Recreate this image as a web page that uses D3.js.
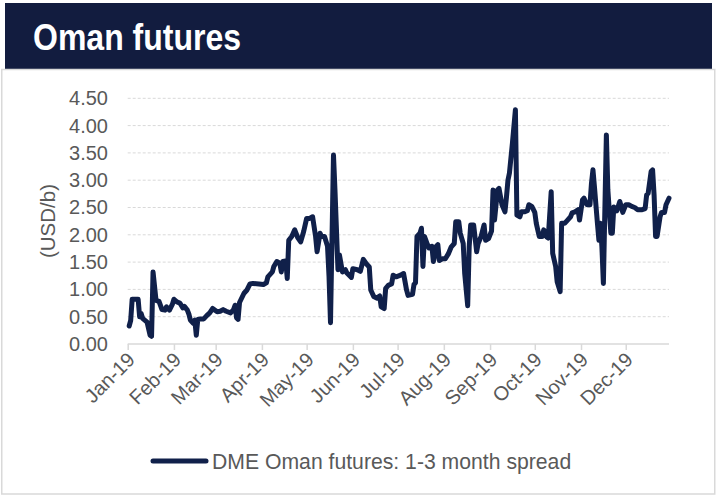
<!DOCTYPE html>
<html><head><meta charset="utf-8">
<script src="https://cdn.jsdelivr.net/npm/d3@7"></script>
<style>html,body{margin:0;padding:0;background:#fff;}svg{display:block;}</style>
</head><body>
<script>
const title = "Oman futures";
const yAxisTitle = "(USD/b)";
const seriesName = "DME Oman futures: 1-3 month spread";
const yTicks = [0, 0.5, 1, 1.5, 2, 2.5, 3, 3.5, 4, 4.5];
const xTickLabels = ["Jan-19","Feb-19","Mar-19","Apr-19","May-19","Jun-19","Jul-19","Aug-19","Sep-19","Oct-19","Nov-19","Dec-19"];
const dates = [
"2019-01-02","2019-01-03","2019-01-04","2019-01-08","2019-01-09","2019-01-10","2019-01-11","2019-01-14","2019-01-16","2019-01-17",
"2019-01-18","2019-01-20","2019-01-22","2019-01-24","2019-01-26","2019-01-27","2019-01-29","2019-01-31","2019-02-01","2019-02-03",
"2019-02-05","2019-02-07","2019-02-08","2019-02-10","2019-02-11","2019-02-12","2019-02-14","2019-02-15","2019-02-16","2019-02-17",
"2019-02-19","2019-02-21","2019-02-23","2019-02-25","2019-02-27","2019-03-02","2019-03-04","2019-03-06","2019-03-08","2019-03-11",
"2019-03-13","2019-03-14","2019-03-15","2019-03-16","2019-03-17","2019-03-20","2019-03-22","2019-03-24","2019-03-26","2019-03-30",
"2019-04-02","2019-04-04","2019-04-05","2019-04-08","2019-04-09","2019-04-11","2019-04-13","2019-04-14","2019-04-15","2019-04-17",
"2019-04-18","2019-04-19","2019-04-21","2019-04-23","2019-04-25","2019-04-27","2019-04-29","2019-05-01","2019-05-03","2019-05-05",
"2019-05-07","2019-05-08","2019-05-10","2019-05-11","2019-05-13","2019-05-15","2019-05-16","2019-05-17","2019-05-19","2019-05-20",
"2019-05-22","2019-05-23","2019-05-25","2019-05-27","2019-05-28","2019-05-31","2019-06-01","2019-06-04","2019-06-06","2019-06-08",
"2019-06-10","2019-06-12","2019-06-13","2019-06-15","2019-06-17","2019-06-19","2019-06-20","2019-06-22","2019-06-23","2019-06-25",
"2019-06-27","2019-06-28","2019-06-30","2019-07-03","2019-07-05","2019-07-07","2019-07-08","2019-07-11","2019-07-12","2019-07-13",
"2019-07-14","2019-07-16","2019-07-17","2019-07-18","2019-07-19","2019-07-21","2019-07-22","2019-07-24","2019-07-25","2019-07-27",
"2019-07-28","2019-07-29","2019-07-31","2019-08-02","2019-08-04","2019-08-06","2019-08-08","2019-08-09","2019-08-11","2019-08-12",
"2019-08-14","2019-08-15","2019-08-17","2019-08-18","2019-08-19","2019-08-21","2019-08-23","2019-08-24","2019-08-26","2019-08-28",
"2019-08-29","2019-08-31","2019-09-02","2019-09-03","2019-09-04","2019-09-06","2019-09-07","2019-09-09","2019-09-11","2019-09-12",
"2019-09-13","2019-09-14","2019-09-16","2019-09-18","2019-09-19","2019-09-21","2019-09-22","2019-09-24","2019-09-26","2019-09-27",
"2019-09-29","2019-10-01","2019-10-02","2019-10-04","2019-10-06","2019-10-07","2019-10-09","2019-10-10","2019-10-12","2019-10-13",
"2019-10-15","2019-10-16","2019-10-18","2019-10-19","2019-10-21","2019-10-23","2019-10-25","2019-10-26","2019-10-28","2019-10-30",
"2019-10-31","2019-11-02","2019-11-03","2019-11-05","2019-11-07","2019-11-08","2019-11-09","2019-11-10","2019-11-12","2019-11-13",
"2019-11-14","2019-11-15","2019-11-16","2019-11-18","2019-11-19","2019-11-21","2019-11-22","2019-11-23","2019-11-25","2019-11-27",
"2019-11-29","2019-12-01","2019-12-03","2019-12-05","2019-12-07","2019-12-09","2019-12-12","2019-12-14","2019-12-15","2019-12-16",
"2019-12-18","2019-12-19","2019-12-20","2019-12-21","2019-12-22","2019-12-24","2019-12-25","2019-12-27","2019-12-28","2019-12-30"
];
const spread = [
0.33,0.43,0.82,0.82,0.50,0.56,0.47,0.40,0.16,0.14,
1.32,0.80,0.78,0.63,0.62,0.68,0.62,0.73,0.82,0.77,
0.75,0.66,0.69,0.62,0.55,0.44,0.38,0.44,0.16,0.45,
0.46,0.46,0.52,0.57,0.65,0.59,0.60,0.63,0.60,0.57,
0.63,0.71,0.48,0.45,0.76,0.93,0.99,1.10,1.11,1.10,
1.09,1.12,1.23,1.32,1.42,1.51,1.48,1.32,1.51,1.52,
1.20,1.90,1.97,2.09,1.95,1.87,2.06,2.30,2.30,2.33,
1.97,1.69,2.03,1.97,1.97,1.79,1.24,0.39,3.46,2.82,
1.36,1.63,1.32,1.36,1.30,1.22,1.38,1.36,1.33,1.55,
1.47,1.41,0.99,0.87,0.84,0.88,0.68,0.65,1.02,1.08,
1.10,1.26,1.23,1.26,1.29,0.99,0.89,0.91,1.09,1.12,
1.97,2.03,2.12,1.42,1.97,1.82,1.76,1.79,1.51,1.79,
1.82,1.53,1.56,1.56,1.65,1.78,1.84,2.24,2.24,2.03,
1.84,1.29,0.70,1.78,2.18,2.18,1.69,1.84,1.97,2.18,
1.90,1.93,2.07,2.82,2.27,2.82,2.85,2.55,2.42,2.69,
3.00,3.13,3.68,4.29,2.36,2.33,2.42,2.42,2.44,2.55,
2.52,2.41,2.21,1.97,1.97,2.09,1.96,1.94,2.79,1.66,
1.42,1.14,0.96,2.21,2.21,2.27,2.33,2.40,2.42,2.46,
2.27,2.64,2.67,2.55,2.55,2.94,3.19,2.88,2.21,1.90,
2.21,1.78,1.11,3.83,2.82,2.03,2.03,2.51,2.44,2.61,
2.41,2.55,2.55,2.52,2.50,2.46,2.46,2.48,2.73,2.76,
3.16,3.19,2.73,1.97,1.97,2.33,2.41,2.41,2.55,2.67
];

const W = 717, H = 496;
const navy = "#121c3f", lineColor = "#10204a", textGray = "#595959", gridGray = "#d9d9d9";
const font = "Liberation Sans, Arial, sans-serif";
const svg = d3.select("body").append("svg").attr("width", W).attr("height", H);

// banner
svg.append("rect").attr("x", 5).attr("y", 3).attr("width", 707).attr("height", 66).attr("fill", navy);
svg.append("text").attr("x", 33).attr("y", 50).text(title)
  .attr("font-family", font).attr("font-weight", "bold")
  .attr("font-size", 36).attr("fill", "#fff")
  .attr("textLength", 208).attr("lengthAdjust", "spacingAndGlyphs");
// frame
svg.append("rect").attr("x", 1.75).attr("y", 69.5).attr("width", 713).attr("height", 424.5)
  .attr("fill", "none").attr("stroke", gridGray).attr("stroke-width", 1.5);

const parse = d3.timeParse("%Y-%m-%d");
const data = dates.map((d, i) => ({date: parse(d), v: spread[i]}));

const x = d3.scaleTime().domain([parse("2019-01-01"), parse("2019-12-30")]).range([127.7, 669]);
const y = d3.scaleLinear().domain([0, 4.5]).range([344, 98.3]);

// gridlines
svg.append("g").selectAll("line").data(yTicks.filter(t => t > 0)).join("line")
  .attr("x1", 127.7).attr("x2", 669).attr("y1", d => y(d)).attr("y2", d => y(d))
  .attr("stroke", gridGray).attr("stroke-width", 1).attr("stroke-dasharray", "3,2");

// y axis labels
const yAxis = d3.axisLeft(y).tickValues(yTicks).tickFormat(d3.format(".2f")).tickSize(0).tickPadding(0);
const gy = svg.append("g").attr("transform", "translate(108,0)").call(yAxis);
gy.select(".domain").remove();
gy.selectAll("text").attr("font-family", font).attr("font-size", 20).attr("fill", textGray);

// x axis
const monthTicks = d3.timeMonth.range(parse("2019-01-01"), parse("2019-12-31"));
const xAxis = d3.axisBottom(x).tickValues(monthTicks).tickSize(6).tickFormat((d, i) => xTickLabels[i]);
const gx = svg.append("g").attr("transform", "translate(0,344)").call(xAxis);
gx.select(".domain").attr("stroke", gridGray).attr("stroke-width", 1.5).attr("d", "M127.7,0H669");
gx.selectAll(".tick line").attr("stroke", gridGray).attr("stroke-width", 1.5);
gx.selectAll(".tick text")
  .attr("font-family", font).attr("font-size", 20).attr("fill", textGray)
  .attr("text-anchor", "end").attr("dy", null).attr("y", 0)
  .attr("transform", "translate(3,12) rotate(-45)")
  .attr("dominant-baseline", "central");

// y axis title
svg.append("text").attr("transform", "translate(47,221) rotate(-90)")
  .attr("text-anchor", "middle").attr("dominant-baseline", "central")
  .attr("font-family", font).attr("font-size", 20.5).attr("fill", textGray)
  .text(yAxisTitle);

// line
const line = d3.line().x(d => x(d.date)).y(d => y(d.v));
svg.append("path").datum(data).attr("d", line).attr("fill", "none")
  .attr("stroke", lineColor).attr("stroke-width", 5).attr("stroke-linejoin", "round").attr("stroke-linecap", "round");

// legend
svg.append("line").attr("x1", 153).attr("x2", 206).attr("y1", 461).attr("y2", 461)
  .attr("stroke", lineColor).attr("stroke-width", 5).attr("stroke-linecap", "round");
svg.append("text").attr("x", 212).attr("y", 461).attr("dominant-baseline", "central")
  .attr("font-family", font).attr("font-size", 21.2).attr("fill", textGray)
  .text(seriesName);
</script>
</body></html>
